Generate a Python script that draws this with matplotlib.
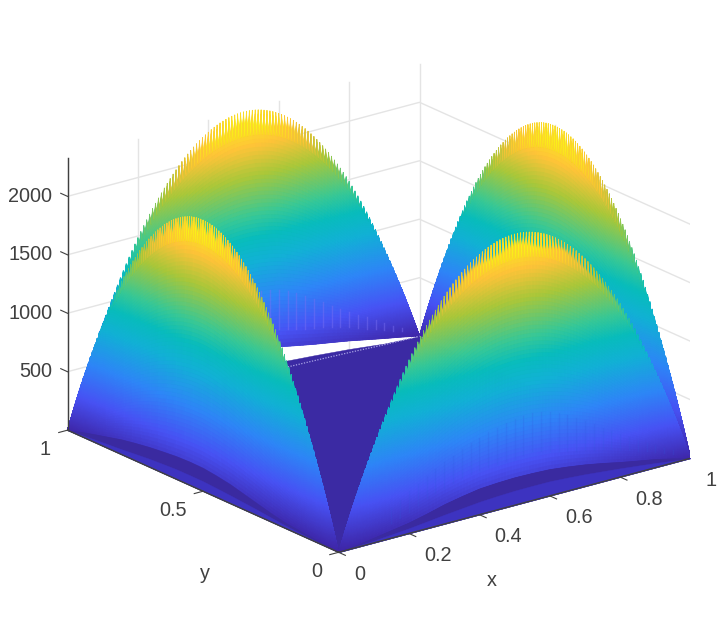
import numpy as np
import matplotlib
matplotlib.use("Agg")
import matplotlib.pyplot as plt
from matplotlib.colors import LinearSegmentedColormap
from mpl_toolkits.mplot3d import proj3d
from mpl_toolkits.mplot3d.art3d import Poly3DCollection

plt.rcParams['font.family'] = ['Liberation Sans', 'DejaVu Sans']

# height of one wall along its edge, read every 1/120 up to the middle
arch_half = [0, 77, 152, 226, 299, 371, 441, 510, 577, 644,
             709, 773, 835, 896, 956, 1015, 1072, 1128, 1183, 1237,
             1289, 1340, 1389, 1438, 1485, 1531, 1575, 1618, 1660, 1701,
             1740, 1778, 1815, 1850, 1884, 1917, 1949, 1979, 2008, 2036,
             2062, 2087, 2111, 2134, 2155, 2175, 2194, 2211, 2227, 2242,
             2256, 2268, 2279, 2288, 2297, 2304, 2310, 2314, 2317, 2319, 2320]
arch_z = np.array(arch_half + arch_half[-2::-1], dtype=float)
arch_t = np.linspace(0, 1, len(arch_z))

# dark crescents at the foot of the walls
band_t = [0, .05, .1, .15, .2, .25, .3, .35, .4, .45, .5,
          .55, .6, .65, .7, .75, .8, .85, .9, .95, 1]
left_upper = [0, 10, 25, 38, 50, 75, 105, 135, 165, 185, 200,
              202, 197, 185, 171, 152, 130, 100, 70, 38, 0]
left_lower = [0, 4, 10, 17, 25, 37, 50, 60, 70, 78, 85,
              86, 85, 78, 70, 58, 45, 35, 25, 12, 0]
right_upper = [0, 22, 45, 70, 95, 130, 170, 200, 225, 235, 240,
               237, 230, 212, 190, 162, 130, 102, 75, 40, 0]
right_lower = [0, 10, 20, 32, 45, 62, 80, 95, 110, 119, 125,
               126, 125, 116, 105, 90, 75, 58, 40, 20, 0]
back_upper = [0, 22, 45, 70, 95, 130, 170, 200, 225, 235, 240,
              237, 230, 200, 171, 146, 120, 90, 60, 32, 0]
floor_far = [0, 8, 18, 30, 42, 56, 70, 82, 92, 100, 105,
             108, 100, 88, 77, 64, 51, 34, 17, 8, 0]

# faint spikes on the walls along x
spike_t = [.15, .175, .2, .225, .25, .275, .3, .325, .35, .375, .4,
           .425, .45, .475, .5, .525, .55, .575, .6, .625, .65, .675,
           .7, .725, .75, .775, .8, .825, .85, .875, .9, .925, .95]
spike_low = [130, 155, 180, 220, 260, 285, 310, 330, 350, 365, 380,
             390, 395, 400, 400, 410, 420, 405, 385, 365, 345, 325,
             310, 295, 280, 260, 235, 210, 185, 160, 130, 105, 80]
spike_high = [260, 310, 360, 405, 450, 490, 530, 565, 600, 630, 660,
              685, 705, 720, 735, 740, 745, 735, 720, 690, 650, 605,
              560, 510, 460, 415, 370, 325, 280, 235, 190, 150, 110]

xticks = [0, .2, .4, .6, .8, 1]
xtick_labels = ['0', '0.2', '0.4', '0.6', '0.8', '1']
yticks = [0, .5, 1]
ytick_labels = ['0', '0.5', '1']
zticks = [500, 1000, 1500, 2000]
ztick_labels = ['500', '1000', '1500', '2000']

parula_stops = [(0, (.2422, .1504, .6603)), (.143, (.2810, .3228, .9579)),
                (.286, (.1786, .5289, .9682)), (.429, (.0689, .6948, .8394)),
                (.52, (.03, .74, .74)), (.60, (.2161, .7843, .5923)),
                (.75, (.6720, .7793, .2227)), (.86, (.9970, .7659, .2199)),
                (1, (.9769, .9839, .0805))]
parula = LinearSegmentedColormap.from_list('parula', parula_stops)

ZTOP = 2331
ZMAX = 2320
AXC = '#404040'
GRIDC = '#e4e4e4'
TXT = '#404040'
FS = 14.3

fig = plt.figure(figsize=(7.18, 6.4), dpi=100)
ax = fig.add_axes([50.4 / 718, 3.4 / 640, 640 / 718, 1.0], projection='3d')
ax.set_proj_type('ortho')
ax.view_init(elev=20.3, azim=232.4)
ax.set_box_aspect((1, 1, .654), zoom=1.05)
ax.set_xlim(0, 1)
ax.set_ylim(0, 1)
ax.set_zlim(0, ZTOP)
ax.set_xticks([])
ax.set_yticks([])
ax.set_zticks([])
ax.set_axis_off()
ax.computed_zorder = False


def wall(to_xy, low, z, nrows=55, ncomb=6):
    """ wall over one edge, comb on top, colour follows the height """
    t2 = np.zeros(2 * len(arch_t) - 1)
    t2[::2] = arch_t
    t2[1::2] = (arch_t[:-1] + arch_t[1:]) / 2
    top = np.zeros(len(t2))
    top[::2] = arch_z
    top[1::2] = (arch_z[:-1] + arch_z[1:]) / 2
    # notch between two teeth, deeper near the summit
    dent = 215 * (top / ZMAX) ** 2
    env = top - dent
    tooth = env.copy()
    tooth[::2] = top[::2]
    base = np.minimum(np.interp(t2, band_t, low), env)
    lev = np.linspace(0, 1, nrows)[:, None]
    lev2 = np.linspace(0, 1, ncomb + 1)[1:, None]
    Z = np.vstack([base + lev * (env - base), env + lev2 * (tooth - env)])
    T = np.tile(t2, (Z.shape[0], 1))
    X, Y = to_xy(T)
    fc = parula(np.clip(Z / ZMAX, 0, 1))
    # two layers, the wider one closes the seams of the thin one
    ax.plot_surface(X, Y, Z, rstride=1, cstride=1, facecolors=fc, shade=False,
                    linewidth=.5, zorder=z - .2)
    ax.plot_surface(X, Y, Z, rstride=1, cstride=1, facecolors=fc, shade=False,
                    linewidth=.1, zorder=z)


def band(to_xy, low, high, color, z):
    t = np.array(band_t)
    x, y = to_xy(t)
    pts = list(zip(x, y, low)) + list(zip(x, y, high))[::-1]
    ax.add_collection3d(Poly3DCollection([pts], facecolors=color, edgecolors=color,
                                         linewidths=.3, zorder=z))


def label(x, y, z, s, ha):
    px, py, _ = proj3d.proj_transform(x, y, z, ax.get_proj())
    ax.text2D(px, py, s, transform=ax.transData, ha=ha, va='center',
              fontsize=FS, color=TXT, zorder=11)


def along_x0(t):  # wall x=0
    return np.zeros_like(t), t


def along_y0(t):  # wall y=0
    return t, np.zeros_like(t)


def along_x1(t):  # wall x=1
    return np.ones_like(t), t


def along_y1(t):  # wall y=1
    return t, np.ones_like(t)


# back grid
for xt in xticks[:-1]:
    ax.plot([xt, xt], [1, 1], [0, ZTOP], color=GRIDC, lw=1, zorder=1)
for yt in yticks:
    ax.plot([1, 1], [yt, yt], [0, ZTOP], color=GRIDC, lw=1, zorder=1)
for zt in zticks:
    ax.plot([0, 1, 1], [1, 1, 0], [zt, zt, zt], color=GRIDC, lw=1, zorder=1)

# back walls
wall(along_y1, back_upper, 2)
wall(along_x1, left_upper, 3)

# floor, its far side lifted
xb = np.array(band_t)
floor = [(0, 0, 0), (1, 0, 0)] + [(v, 1, h) for v, h in zip(xb[::-1], floor_far[::-1])]
ax.add_collection3d(Poly3DCollection([floor], facecolors='#3b2aa3', edgecolors='#3b2aa3',
                                     linewidths=.3, zorder=4))
ax.plot(xb[11:], np.ones(10), np.array(floor_far[11:]) * .4, color='#a9a3e6', lw=.9,
        ls=(0, (1, 1.2)), zorder=5)

# spikes
for st, lo, hi in zip(spike_t, spike_low, spike_high):
    if st >= .55:
        ax.plot([st, st], [1, 1], [lo, hi], color='#7a70f2', lw=1, alpha=.45, zorder=3.5)

# front walls
wall(along_y0, right_upper, 6)
band(along_y0, right_lower, right_upper, '#3a2aa0', 7)
band(along_y0, [0] * len(band_t), right_lower, '#3d33c0', 7)
for st, lo, hi in zip(spike_t, spike_low, spike_high):
    ax.plot([st, st], [0, 0], [lo, hi], color='#2f57dd', lw=1, alpha=.18, zorder=7)

wall(along_x0, left_upper, 9)
band(along_x0, left_lower, left_upper, '#3a2aa0', 9.5)
band(along_x0, [0] * len(band_t), left_lower, '#3d33c0', 9.5)

# axis lines and ticks
ax.plot([0, 1], [0, 0], [0, 0], color=AXC, lw=1, zorder=10)
ax.plot([0, 0], [0, 1], [0, 0], color=AXC, lw=1, zorder=10)
ax.plot([0, 0], [1, 1], [0, ZTOP], color=AXC, lw=1, zorder=10)
for xt, lab in zip(xticks, xtick_labels):
    ax.plot([xt, xt], [0, -.025], [0, 0], color=AXC, lw=.8, zorder=10)
    label(xt - .06, -.134, 0, lab, 'left')
for yt, lab in zip(yticks, ytick_labels):
    ax.plot([0, -.025], [yt, yt], [0, 0], color=AXC, lw=.8, zorder=10)
    label(-.105, yt - .0745, 0, lab, 'right')
for zt, lab in zip(zticks, ztick_labels):
    ax.plot([0, 0], [1, 1.025], [zt, zt], color=AXC, lw=.8, zorder=10)
    label(-.027, 1.021, zt, lab, 'right')

label(.163, -.355, 0, 'x', 'center')
label(-.322, .076, 0, 'y', 'center')

fig.savefig('out.png', dpi=100)
